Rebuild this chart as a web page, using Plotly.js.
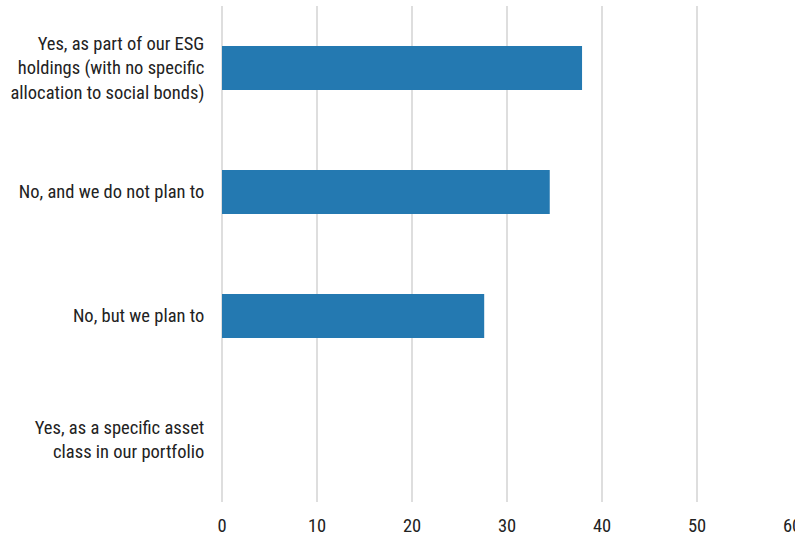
<!DOCTYPE html>
<html><head><meta charset="utf-8">
<script src="https://cdn.plot.ly/plotly-3.0.1.min.js"></script>
<style>html,body{margin:0;padding:0;background:#fff;}#chart{width:795px;height:536px;}</style>
</head><body><div id="chart"></div>
<script>
const categories = [
  "Yes, as part of our ESG<br>holdings (with no specific<br>allocation to social bonds)",
  "No, and we do not plan to",
  "No, but we plan to",
  "Yes, as a specific asset<br>class in our portfolio"
];
const values = [37.9, 34.5, 27.6, 0];
const xTicks = [0, 10, 20, 30, 40, 50, 60];

const font = "Roboto Condensed, Liberation Sans Narrow, Roboto, sans-serif";
Plotly.newPlot('chart', [{
  type: 'bar', orientation: 'h',
  x: values, y: categories,
  width: 0.355,
  marker: {color: '#2479b1', line: {width: 0}},
  hoverinfo: 'none'
}], {
  width: 795, height: 536,
  margin: {l: 222, r: 3, t: 6, b: 34},
  paper_bgcolor: '#fff', plot_bgcolor: '#fff',
  font: {family: font, size: 18.5, color: '#222'},
  showlegend: false,
  xaxis: {range: [0, 60], tickvals: xTicks, ticktext: xTicks.map(String),
    showgrid: true, gridcolor: '#dedede', gridwidth: 1.5,
    zeroline: true, zerolinecolor: '#dedede', zerolinewidth: 1.5,
    showline: false, ticks: 'outside', ticklen: 7, tickcolor: 'rgba(0,0,0,0)',
    ticklabeloverflow: 'allow',
    tickfont: {family: font, size: 18.5, color: '#222'}, fixedrange: true},
  yaxis: {autorange: 'reversed', showgrid: false, zeroline: false, showline: false,
    ticks: 'outside', ticklen: 13, tickcolor: 'rgba(0,0,0,0)',
    tickfont: {family: font, size: 18.5, color: '#222'}, fixedrange: true}
}, {displayModeBar: false, staticPlot: true});
</script></body></html>
